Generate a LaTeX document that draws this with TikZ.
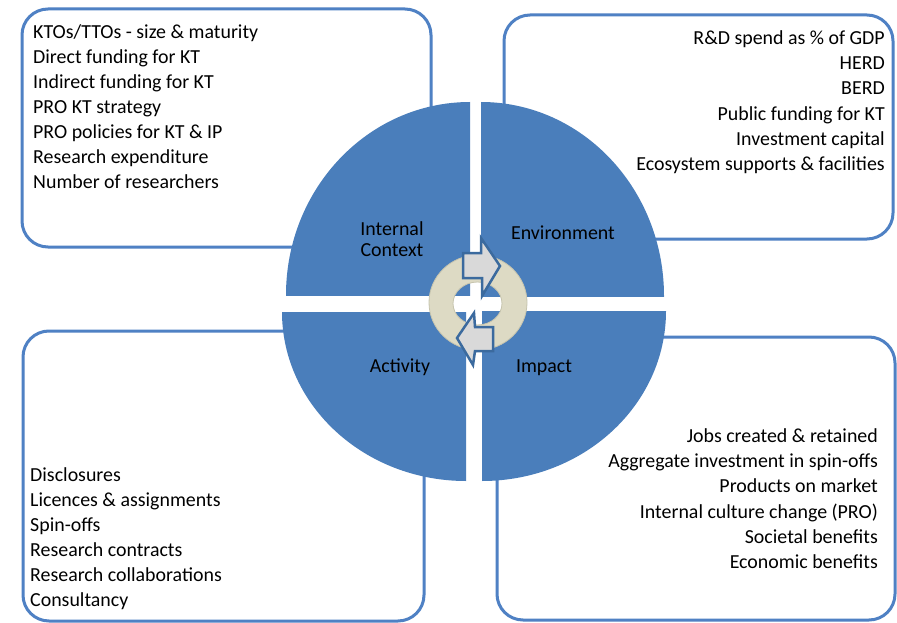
\documentclass[tikz,border=0pt]{standalone}
\usepackage{fontspec}
\setmainfont{Carlito}
\definecolor{qblue}{HTML}{4A7EBB}
\definecolor{boxblue}{HTML}{4F81C4}
\definecolor{ringc}{HTML}{DDDAC4}
\definecolor{ringl}{HTML}{C6C4AE}
\definecolor{arrfill}{HTML}{D9D9D9}
\definecolor{arrline}{HTML}{3B6A9E}
\tikzset{
  infobox/.style={draw=boxblue, line width=3pt, rounded corners=26pt},
  quarter/.style={fill=qblue},
  cyclearrow/.style={fill=arrfill, draw=arrline, line width=2.5pt, line join=miter},
  txt/.style={inner sep=0pt, font=\fontsize{19.9}{25}\selectfont, text=black}
}
\begin{document}
\begin{tikzpicture}[x=1pt,y=-1pt]
\useasboundingbox (0,0) rectangle (897,623);
\fill[white] (0,0) rectangle (897,623);
% boxes
\draw[infobox] (22,9) rectangle (431,247);
\draw[infobox] (504,15) rectangle (893,239);
\draw[infobox] (23,331) rectangle (424,621);
\draw[infobox] (497,337) rectangle (895,620);
% quarters
\begin{scope}
  \clip (270,90) rectangle (470,295);
  \fill[quarter] (470,295) ellipse [x radius=184, y radius=193];
\end{scope}
\begin{scope}
  \clip (481,90) rectangle (680,296);
  \fill[quarter] (481,296) ellipse [x radius=183, y radius=194];
\end{scope}
\begin{scope}
  \clip (270,312) rectangle (466,500);
  \fill[quarter] (466,312) ellipse [x radius=184, y radius=169];
\end{scope}
\begin{scope}
  \clip (482,311) rectangle (680,500);
  \fill[quarter] (482,311) ellipse [x radius=184, y radius=170];
\end{scope}
% ring
\fill[ringc, even odd rule] (478,302.5) ellipse [x radius=49, y radius=47.5]
  (477.5,303.5) ellipse [x radius=24.5, y radius=21.5];
\draw[ringl, line width=0.8pt] (478,302.5) ellipse [x radius=49, y radius=47.5];
\draw[ringl, line width=0.8pt] (477.5,303.5) ellipse [x radius=24.5, y radius=21.5];
% arrows
\draw[cyclearrow] (463,253) -- (481,253) -- (481,238) -- (500,266) -- (482,296) -- (482,278) -- (463,278) -- cycle;
\draw[cyclearrow] (493,327) -- (475,327) -- (474,313) -- (457,338) -- (473,365) -- (475,351) -- (493,351) -- cycle;
% quarter labels
\node[txt, anchor=base] (ic1) at (392,235) {Internal};
\node[txt, anchor=base] (ic2) at (392,256) {Context};
\node[txt, anchor=base] (env) at (563,239) {Environment};
\node[txt, anchor=base] (act) at (400,372) {Activity};
\node[txt, anchor=base] (imp) at (544,372) {Impact};
% box texts
\foreach \t [count=\i] in {KTOs/TTOs - size \& maturity, Direct funding for KT, Indirect funding for KT, PRO KT strategy, PRO policies for KT \& IP, Research expenditure, Number of researchers}
  \node[txt, anchor=base west] (tl\i) at (33,{38.5+25*(\i-1)}) {\t};
\foreach \t [count=\i] in {R\&D spend as \% of GDP, HERD, BERD, Public funding for KT, Investment capital, Ecosystem supports \& facilities}
  \node[txt, anchor=base east] (tr\i) at (885,{44.3+25.3*(\i-1)}) {\t};
\foreach \t [count=\i] in {Disclosures, Licences \& assignments, Spin-offs, Research contracts, Research collaborations, Consultancy}
  \node[txt, anchor=base west] (bl\i) at (30,{481.7+25*(\i-1)}) {\t};
\foreach \t [count=\i] in {Jobs created \& retained, Aggregate investment in spin-offs, Products on market, Internal culture change (PRO), Societal benefits, Economic benefits}
  \node[txt, anchor=base east] (br\i) at (878,{442.7+25.1*(\i-1)}) {\t};
\end{tikzpicture}
\end{document}
